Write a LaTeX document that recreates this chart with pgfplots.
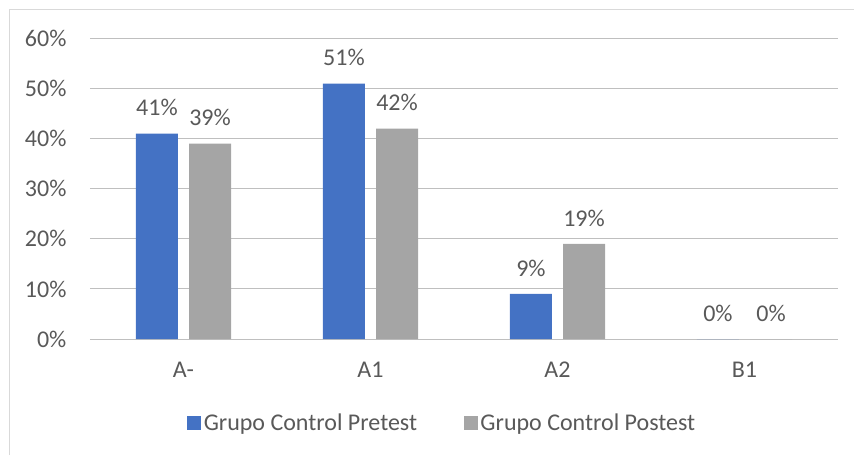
\documentclass[border=0pt]{standalone}
\usepackage{pgfplots}
\pgfplotsset{compat=1.18}
\usepackage{fontspec}
\setmainfont{Carlito}
\definecolor{txt}{HTML}{595959}
\definecolor{grid}{HTML}{D9D9D9}
\definecolor{cblue}{HTML}{4472C4}
\definecolor{cgray}{HTML}{A5A5A5}
\begin{document}
\begin{tikzpicture}[x=1pt,y=1pt]
\useasboundingbox (0,0) rectangle (640.5,341.25);
\draw[grid, line width=0.75pt] (6.75,0) -- (6.75,334.5) -- (640.5,334.5);
\begin{axis}[
  at={(67.5pt,87pt)}, anchor=south west,
  scale only axis, width=561pt, height=225.4pt,
  xmin=-0.5, xmax=3.5, ymin=0, ymax=60,
  xtick={0,1,2,3}, xticklabels={A-,A1,A2,B1},
  ytick={0,10,...,60},
  yticklabels={0\%,10\%,20\%,30\%,40\%,50\%,60\%},
  font=\fontsize{18}{21}\selectfont,
  /pgf/number format/assume math mode=true,
  tick style={draw=none},
  major tick length=0pt,
  xmajorgrids=false, ymajorgrids=true, grid style={grid, line width=0.75pt},
  axis line style={draw=none},
  yticklabel style={anchor=east, inner sep=0pt, xshift=-17.5pt, text=txt},
  xticklabel style={anchor=center, inner sep=0pt, yshift=-23.25pt, text=txt},
  ybar, bar width=31.5pt,
  nodes near coords={\pgfmathprintnumber{\pgfplotspointmeta}\%},
  every node near coord/.append style={anchor=south, inner sep=0pt, yshift=13pt, text=txt, font=\fontsize{18}{21}\selectfont},
  legend style={draw=none, at={(0.4713,-0.2795)}, anchor=center, legend columns=2,
    /tikz/every even column/.append style={column sep=33pt},
    font=\fontsize{18}{21}\selectfont, text=txt, inner sep=0pt},
  legend cell align=left,
  legend image code/.code={\fill[#1] (0pt,-5.25pt) rectangle (10.5pt,5.25pt);},
]
\addplot[fill=cblue, draw=none, bar shift=-19.9pt] coordinates {(0,41) (1,51) (2,9) (3,0)};
\addplot[fill=cgray, draw=none, bar shift=19.9pt] coordinates {(0,39) (1,42) (2,19) (3,0)};
\legend{Grupo Control Pretest, Grupo Control Postest}
\end{axis}
\end{tikzpicture}
\end{document}
